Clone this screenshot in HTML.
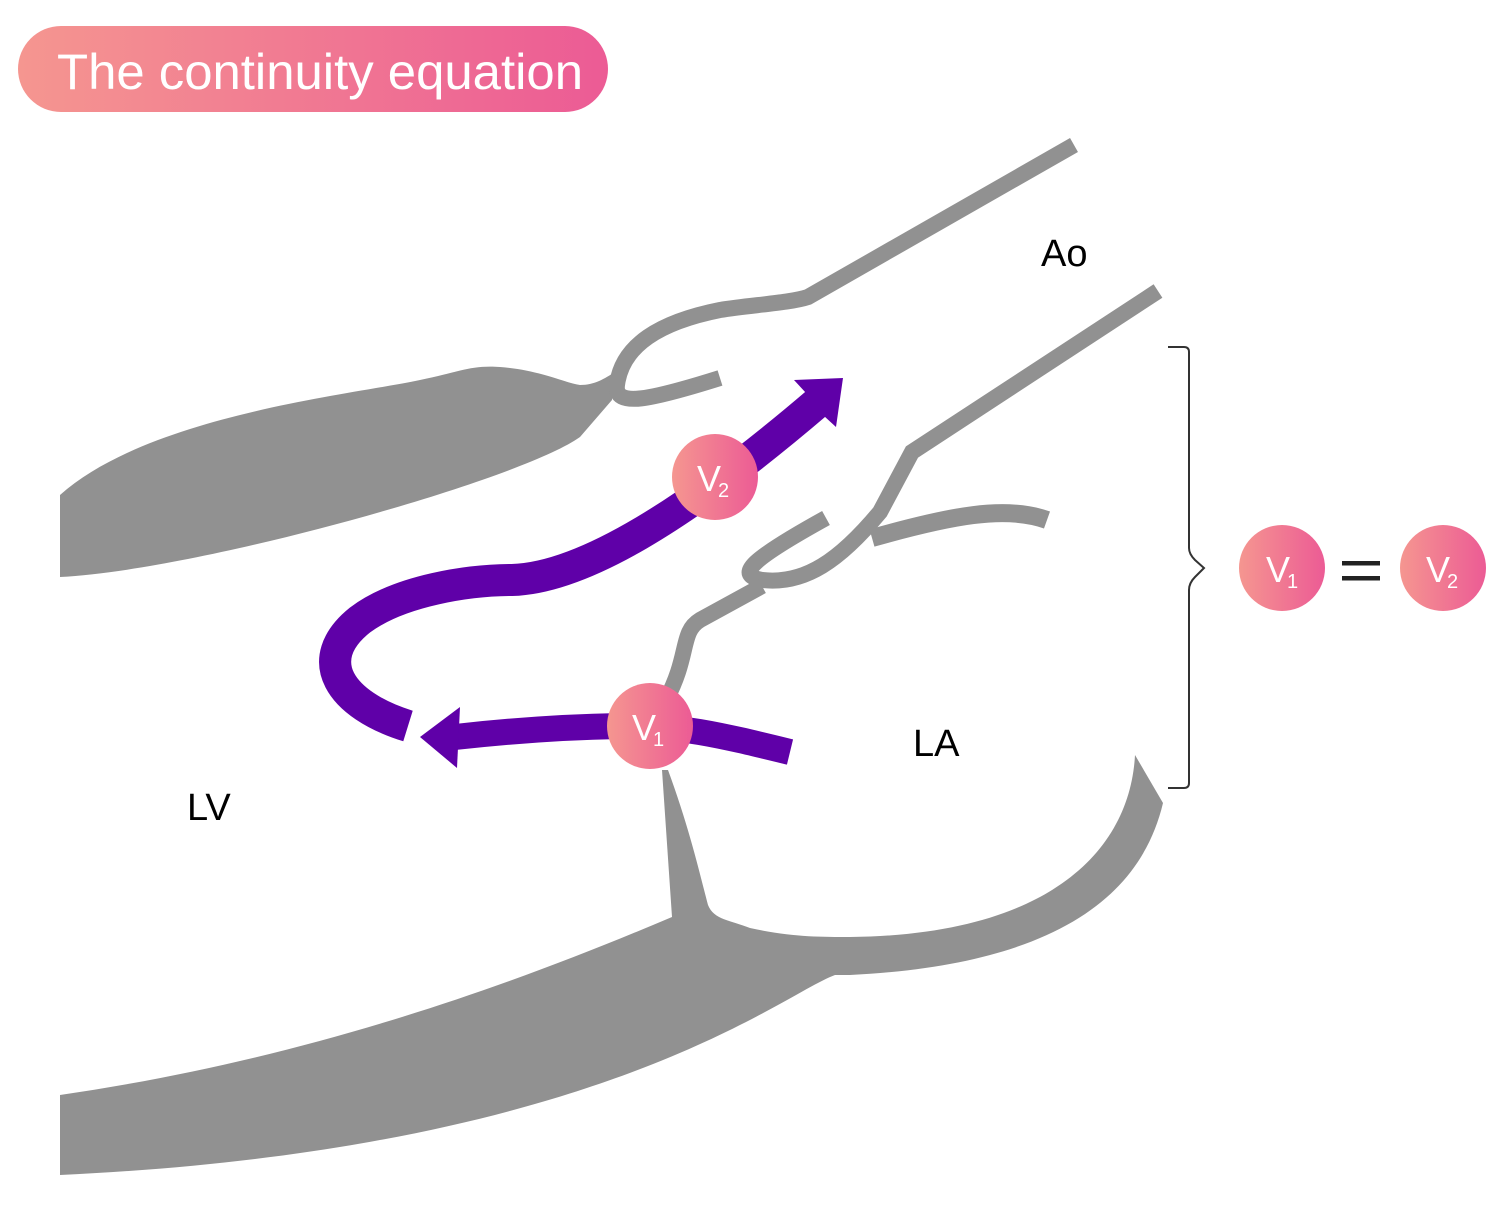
<!DOCTYPE html>
<html><head><meta charset="utf-8"><style>
html,body{margin:0;padding:0;background:#fff;}
svg{display:block;}
text{font-family:"Liberation Sans",sans-serif;}
</style></head><body>
<svg width="1500" height="1230" viewBox="0 0 1500 1230" xmlns="http://www.w3.org/2000/svg">
<defs>
<linearGradient id="g" x1="0" y1="0" x2="1" y2="0">
<stop offset="0" stop-color="#f59690"/><stop offset="1" stop-color="#ec5b95"/>
</linearGradient>
</defs>
<!-- title -->
<rect x="18" y="26" width="590" height="86" rx="43" fill="url(#g)"/>
<text x="57" y="89" font-size="50" fill="#fff" textLength="526" lengthAdjust="spacingAndGlyphs">The continuity equation</text>

<g fill="#919191">
<path d="M60,495 C150,415 350,395 420,380 C460,372 470,365 500,367 C540,370 565,383 580,385 C595,385 605,378 612,374 L612,400 L580,437 C520,480 200,570 60,577 Z"/>
<path d="M60,1095 C300,1060 500,990 672,917 L662,770 L668,770 C690,830 700,875 708,905 C714,920 730,920 750,928 C790,937 820,937 850,937 C1050,935 1130,850 1135,755 L1163,803 C1140,900 1050,965 850,975 L835,975 C780,995 600,1150 60,1175 Z"/>
</g>
<g fill="none" stroke="#919191" stroke-linecap="butt">
<path d="M1074,145 L808,297 C790,303 750,305 720,310 C660,322 622,345 617,385 C614,408 650,400 720,378" stroke-width="16"/>
<path d="M1158,291 L912,452 L880,512 C840,560 805,585 762,580 C735,575 750,560 826,518" stroke-width="16"/>
<path d="M872,538 C950,516 1005,505 1047,520" stroke-width="18"/>
<path d="M762,586 L700,620 C680,632 690,655 666,700" stroke-width="16"/>
</g>

<!-- purple arrows -->
<g fill="none" stroke="#5f00a8">
<path d="M790,752 C720,735 680,725 620,726 C560,727 500,732 455,737" stroke-width="26"/>
<path d="M408,726 C340,705 310,660 360,620 C400,590 470,580 512,580 C580,578 680,520 818,402" stroke-width="32"/>
</g>
<g fill="#5f00a8">
<polygon points="420,737 460,707 457,768"/>
<polygon points="843,378 794,380 806,393 824,416 836,427"/>
</g>

<!-- circles -->
<g fill="url(#g)">
<circle cx="715" cy="477" r="43"/>
<circle cx="650" cy="726" r="43"/>
<circle cx="1282" cy="568" r="43"/>
<circle cx="1443" cy="568" r="43"/>
</g>
<g fill="#fff">
<text x="697" y="491" font-size="36">V</text><text x="718" y="497" font-size="20">2</text>
<text x="632" y="740" font-size="36">V</text><text x="653" y="746" font-size="20">1</text>
<text x="1266" y="582" font-size="36">V</text><text x="1287" y="588" font-size="20">1</text>
<text x="1426" y="582" font-size="36">V</text><text x="1447" y="588" font-size="20">2</text>
</g>
<rect x="1342" y="561" width="38" height="4.5" fill="#222"/>
<rect x="1342" y="576" width="38" height="4.5" fill="#222"/>
<path d="M1168,347 L1184,347 Q1189,347 1189,352 L1189,548 Q1189,554 1195,560 L1204,568 L1195,577 Q1189,583 1189,590 L1189,783 Q1189,788 1184,788 L1168,788" fill="none" stroke="#333" stroke-width="2"/>

<g fill="#000" font-size="38">
<text x="1041" y="266">Ao</text>
<text x="913" y="756">LA</text>
<text x="187" y="820">LV</text>
</g>
</svg>
</body></html>
